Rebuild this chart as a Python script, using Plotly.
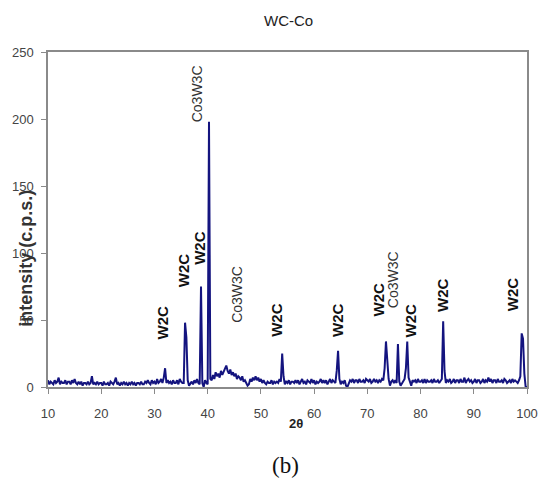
import numpy as np
import plotly.graph_objects as go

# 2-theta scan grid (degrees), 0.25 deg step
two_theta = np.arange(10, 100.001, 0.25)

# Measured intensity (c.p.s.), four readings per degree
intensity_10_40 = [
    5, 2, 4, 3,   2, 5, 3, 4,   7, 2, 4, 3,   3, 5, 2, 4,   4, 2, 5, 3,
    6, 3, 2, 4,   2, 4, 1, 3,   3, 2, 4, 2,   3, 8, 2, 3,   2, 4, 2, 3,
    3, 1, 4, 2,   2, 3, 1, 4,   3, 2, 4, 7,   2, 3, 1, 3,   2, 4, 2, 3,
    1, 3, 2, 4,   2, 3, 1, 3,   3, 2, 4, 2,   2, 4, 3, 5,   3, 2, 5, 3,
    4, 2, 6, 3,   4, 6, 3, 7,   14, 3, 5, 3,  4, 2, 5, 3,   3, 5, 2, 6,
    4, 3, 3, 48,  37, 5, 1, 3,  4, 2, 5, 3,   6, 3, 2, 75,  3, 0, 5, 3,
]
intensity_40_70 = [
    2, 198, 6, 5,  9, 6, 11, 8,   10, 7, 12, 9,  11, 14, 16, 12, 10, 13, 9, 11,
    8, 10, 6, 8,   7, 5, 8, 4,    5, 3, 1, 2,    6, 4, 7, 5,    8, 5, 7, 4,
    6, 3, 5, 3,    2, 4, 3, 3,    5, 2, 4, 3,    4, 3, 6, 4,    25, 8, 2, 4,
    3, 5, 2, 4,    4, 3, 5, 3,    5, 2, 4, 6,    3, 4, 2, 5,    4, 3, 6, 3,
    5, 2, 4, 3,    4, 6, 3, 5,    3, 5, 2, 4,    6, 3, 5, 4,    3, 12, 27, 6,
    2, 4, 3, 5,    1, 0, 3, 5,    4, 6, 3, 5,    5, 3, 6, 4,    4, 5, 3, 6,
]
intensity_70_100 = [
    5, 4, 6, 3,    4, 6, 4, 5,    3, 5, 4, 6,    5, 14, 34, 22, 6, 1, 4, 5,
    3, 5, 3, 32,   4, 1, 3, 5,    6, 14, 34, 7,  3, 1, 5, 4,    5, 3, 6, 4,
    4, 5, 3, 6,    3, 5, 4, 4,    5, 3, 6, 4,    4, 5, 3, 5,    6, 49, 12, 3,
    5, 4, 6, 3,    4, 6, 3, 5,    5, 3, 6, 4,    4, 7, 3, 5,    6, 4, 5, 3,
    4, 6, 3, 5,    5, 3, 4, 6,    3, 5, 4, 7,    4, 6, 3, 5,    5, 3, 6, 4,
    4, 5, 3, 6,    5, 3, 4, 5,    3, 6, 4, 5,    4, 3, 5, 8,    40, 36, 10, 0,
    0,
]
intensity = intensity_10_40 + intensity_40_70 + intensity_70_100

# Phase labels over the peaks: text, 2-theta, intensity level of label centre
peak_labels = ["W2C", "W2C", "W2C", "Co3W3C", "Co3W3C", "W2C", "W2C",
               "W2C", "Co3W3C", "W2C", "W2C", "W2C"]
label_x = [31.5, 35.5, 38.4, 37.95, 45.5, 52.8, 64.3, 72.1, 74.7, 78.1, 84.1, 97.3]
label_y = [48.5, 87, 104, 219, 69.5, 50, 50, 65, 80, 50, 69, 69]

x_ticks = [10, 20, 30, 40, 50, 60, 70, 80, 90, 100]
y_ticks = [0, 50, 100, 150, 200, 250]

SANS = "Liberation Sans, Arial"

fig = go.Figure()
fig.add_trace(go.Scatter(
    x=two_theta, y=intensity, mode="lines",
    line=dict(color="#14147f", width=2),
    showlegend=False, hoverinfo="skip",
))

for txt, lx, ly in zip(peak_labels, label_x, label_y):
    bold = txt == "W2C"
    fig.add_annotation(
        x=lx, y=ly, xref="x", yref="y", text=f"<b>{txt}</b>" if bold else txt,
        textangle=-90, showarrow=False, xanchor="center", yanchor="middle",
        font=dict(family=SANS, size=15 if bold else 14,
                  color="#111111" if bold else "#333333"),
    )

# Title, axis titles and panel tag
fig.add_annotation(x=0.502, y=1.095, xref="paper", yref="paper", text="WC-Co",
                   showarrow=False, xanchor="center", yanchor="middle",
                   font=dict(family=SANS, size=15, color="#222222"))
fig.add_annotation(x=56.6, y=-0.11, xref="x", yref="paper", text="<b>2θ</b>",
                   showarrow=False, xanchor="center", yanchor="middle",
                   font=dict(family=SANS, size=13, color="#222222"))
fig.add_annotation(x=-0.0466, y=0.385, xref="paper", yref="paper", text="<b>intensity (c.p.s.)</b>",
                   textangle=-90, showarrow=False, xanchor="center", yanchor="middle",
                   font=dict(family=SANS, size=18, color="#333333"))
fig.add_annotation(x=0.496, y=-0.233, xref="paper", yref="paper", text="(b)",
                   showarrow=False, xanchor="center", yanchor="middle",
                   font=dict(family="Liberation Serif, Times New Roman", size=23, color="#111111"))

fig.update_layout(
    width=550, height=479,
    margin=dict(l=44, r=12, t=52, b=92),
    paper_bgcolor="white", plot_bgcolor="white",
    xaxis=dict(range=[10, 100], tickvals=x_ticks, showgrid=False, zeroline=False,
               showline=True, linecolor="#8a8a8a", linewidth=1.5, mirror=True,
               ticks="outside", ticklen=5, tickcolor="#8a8a8a", ticklabelstandoff=9,
               tickfont=dict(family=SANS, size=13, color="#444444")),
    yaxis=dict(range=[0, 250], tickvals=y_ticks, showgrid=False, zeroline=False,
               showline=True, linecolor="#8a8a8a", linewidth=1.5, mirror=True,
               ticks="outside", ticklen=5, tickcolor="#8a8a8a", ticklabelstandoff=5,
               tickfont=dict(family=SANS, size=13, color="#444444")),
)

fig.write_html("out.html")
